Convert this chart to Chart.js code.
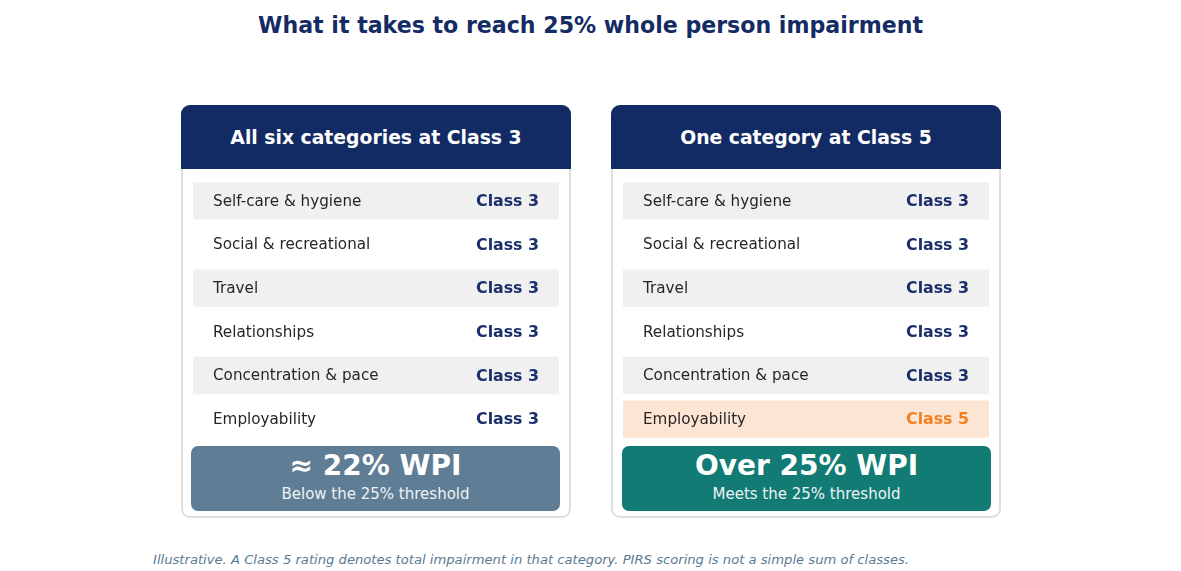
<!DOCTYPE html>
<html>
<head>
<meta charset="utf-8">
<script src="https://cdn.jsdelivr.net/npm/chart.js@4.4.1/dist/chart.umd.min.js"></script>
<style>
  body { margin: 0; background: #fff; font-family: "DejaVu Sans", sans-serif; }
  #page { position: relative; width: 1181px; height: 571px; overflow: hidden; }
  .title { position: absolute; top: 12px; left: 0; width: 1181px; text-align: center; font-weight: bold; font-size: 22.1px; color: #142b63; }
  .card { position: absolute; top: 105px; width: 386px; height: 409px; border: 2px solid #dedede; border-radius: 9px; }
  .head { position: absolute; top: 105px; width: 390px; height: 64px; background: #132b64; border-radius: 9px 9px 0 0;
          color: #fff; font-weight: bold; font-size: 18.8px; line-height: 66px; text-align: center; }
  .rows { position: absolute; top: 179px; width: 366px; height: 262px; }
  .result { position: absolute; top: 446px; width: 369px; height: 65px; border-radius: 7px; color: #fff; text-align: center; }
  .result .big { font-weight: bold; font-size: 28px; margin-top: 3px; line-height: 34px; }
  .result .small { font-size: 15px; margin-top: 2px; color: #eef3f6; }
  .note { position: absolute; top: 552px; left: 153px; font-style: italic; font-size: 13.15px; color: #5a7a93; }
</style>
</head>
<body>
<div id="page">
  <div class="title">What it takes to reach 25% whole person impairment</div>

  <div class="card" style="left:181px"></div>
  <div class="head" style="left:181px" id="headA"></div>
  <div class="rows" style="left:193px"><canvas id="rowsA"></canvas></div>
  <div class="result" style="left:191px;background:#5f7d94">
    <div class="big" id="bigA"></div><div class="small" id="smallA"></div>
  </div>

  <div class="card" style="left:611px"></div>
  <div class="head" style="left:611px" id="headB"></div>
  <div class="rows" style="left:623px"><canvas id="rowsB"></canvas></div>
  <div class="result" style="left:622px;background:#127b74">
    <div class="big" id="bigB"></div><div class="small" id="smallB"></div>
  </div>

  <div class="note" id="note"></div>
</div>

<script>
const categories = ["Self-care & hygiene", "Social & recreational", "Travel", "Relationships", "Concentration & pace", "Employability"];
const classesA = [3, 3, 3, 3, 3, 3];
const classesB = [3, 3, 3, 3, 3, 5];
const titlesCard = ["All six categories at Class 3", "One category at Class 5"];
const resultBig = ["\u2248 22% WPI", "Over 25% WPI"];
const resultSmall = ["Below the 25% threshold", "Meets the 25% threshold"];
const footnote = "Illustrative. A Class 5 rating denotes total impairment in that category. PIRS scoring is not a simple sum of classes.";

document.getElementById("headA").textContent = titlesCard[0];
document.getElementById("headB").textContent = titlesCard[1];
document.getElementById("bigA").textContent = resultBig[0];
document.getElementById("bigB").textContent = resultBig[1];
document.getElementById("smallA").textContent = resultSmall[0];
document.getElementById("smallB").textContent = resultSmall[1];
document.getElementById("note").textContent = footnote;

// write the category name and class on each row bar
const rowText = {
  id: "rowText",
  afterDatasetsDraw(chart) {
    const ctx = chart.ctx;
    const meta = chart.getDatasetMeta(0);
    const classes = chart.config.options.plugins.rowText.classes;
    ctx.save();
    ctx.textBaseline = "middle";
    meta.data.forEach((bar, i) => {
      ctx.font = "15.2px 'DejaVu Sans'";
      ctx.fillStyle = "#262626";
      ctx.textAlign = "left";
      ctx.fillText(categories[i], bar.base + 20, bar.y + 1);
      ctx.font = "bold 15.8px 'DejaVu Sans'";
      ctx.fillStyle = classes[i] >= 5 ? "#f47f20" : "#1a2e6b";
      ctx.textAlign = "right";
      ctx.fillText("Class " + classes[i], bar.x - 20, bar.y + 1);
    });
    ctx.restore();
  }
};

function rowColors(classes) {
  return classes.map((c, i) => c >= 5 ? "#fde5d4" : (i % 2 === 0 ? "#f0f0f0" : "#ffffff"));
}

function makeRows(id, classes) {
  new Chart(document.getElementById(id), {
    type: "bar",
    data: {
      labels: categories,
      datasets: [{
        data: classes.map(() => 1),
        backgroundColor: rowColors(classes),
        borderWidth: 0,
        barPercentage: 0.855,
        categoryPercentage: 1
      }]
    },
    options: {
      indexAxis: "y",
      responsive: true,
      maintainAspectRatio: false,
      animation: false,
      layout: { padding: 0 },
      scales: {
        x: { display: false, min: 0, max: 1 },
        y: { display: false }
      },
      plugins: {
        legend: { display: false },
        tooltip: { enabled: false },
        rowText: { classes: classes }
      }
    },
    plugins: [rowText]
  });
}

makeRows("rowsA", classesA);
makeRows("rowsB", classesB);
</script>
</body>
</html>
